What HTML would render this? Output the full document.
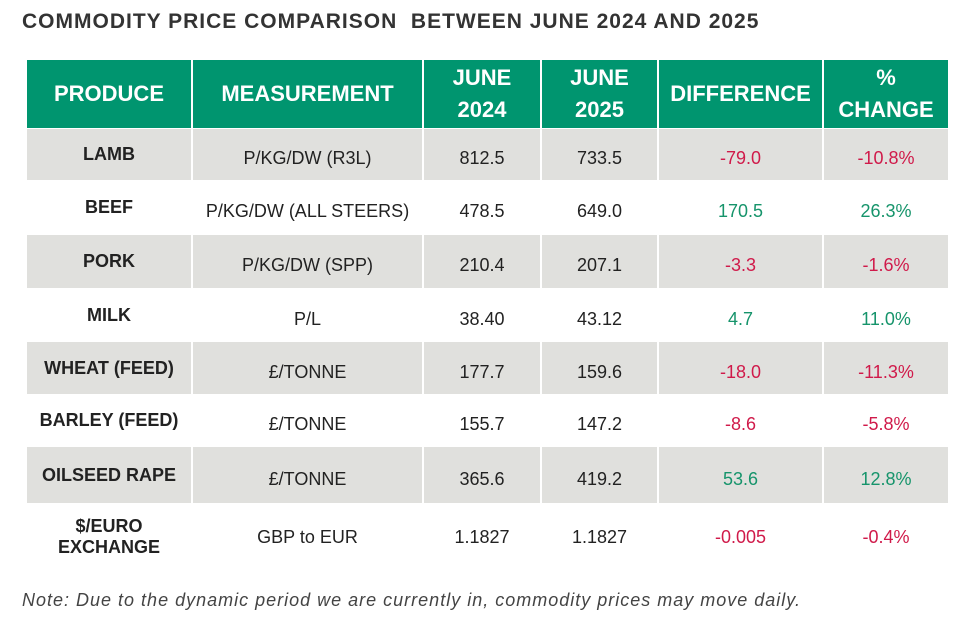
<!DOCTYPE html>
<html><head><style>
body{margin:0;width:976px;height:629px;background:#fff;font-family:"Liberation Sans",sans-serif;position:relative;overflow:hidden}
.t{position:absolute;left:22px;top:10px;font-size:21px;font-weight:bold;color:#333;letter-spacing:1px}
.c{position:absolute;display:flex;align-items:center;justify-content:center;text-align:center;font-size:18px;color:#222;box-sizing:border-box}
.h{background:#00956f;color:#fff;font-weight:bold;font-size:22px;line-height:32px}
.g{background:#e0e0dd}
.b{font-weight:bold}
.r{color:#d01a4a}.gr{color:#16946b}
.n{position:absolute;left:22px;top:590px;font-size:18px;font-style:italic;color:#444;letter-spacing:1px}
</style></head><body>
<div class="t">COMMODITY PRICE COMPARISON&nbsp; BETWEEN JUNE 2024 AND 2025</div>
<div id="tb"></div>
<div class="n">Note: Due to the dynamic period we are currently in, commodity prices may move daily.</div>
<script>
var cols=[27,193,424,542,659,824,948];
var rows=[[60,128],[129,180],[181,234],[235,288],[289,341],[342,394],[395,446],[447,503],[504,570]];
var data=[["PRODUCE","MEASUREMENT","JUNE<br>2024","JUNE<br>2025","DIFFERENCE","%<br>CHANGE"],
["LAMB","P/KG/DW (R3L)","812.5","733.5","-79.0","-10.8%"],
["BEEF","P/KG/DW (ALL STEERS)","478.5","649.0","170.5","26.3%"],
["PORK","P/KG/DW (SPP)","210.4","207.1","-3.3","-1.6%"],
["MILK","P/L","38.40","43.12","4.7","11.0%"],
["WHEAT (FEED)","£/TONNE","177.7","159.6","-18.0","-11.3%"],
["BARLEY (FEED)","£/TONNE","155.7","147.2","-8.6","-5.8%"],
["OILSEED RAPE","£/TONNE","365.6","419.2","53.6","12.8%"],
["$/EURO<br>EXCHANGE","GBP to EUR","1.1827","1.1827","-0.005","-0.4%"]];
var h="";
for(var i=0;i<rows.length;i++){for(var j=0;j<6;j++){
var cls="c";
if(i==0)cls+=" h";else{if(i%2==1)cls+=" g";if(j==0)cls+=" b";
if(j>=4)cls+=(data[i][j][0]=="-")?" r":" gr";}
var x=cols[j],w=cols[j+1]-cols[j]-(j<5?2:0);
var pt=(i>0&&j>0&&i<8)?"padding-top:8px;":"";
h+='<div class="'+cls+'" style="left:'+x+'px;top:'+rows[i][0]+'px;width:'+w+'px;height:'+(rows[i][1]-rows[i][0])+'px;'+pt+'">'+data[i][j]+'</div>';}}
document.getElementById("tb").innerHTML=h;
</script>
</body></html>
